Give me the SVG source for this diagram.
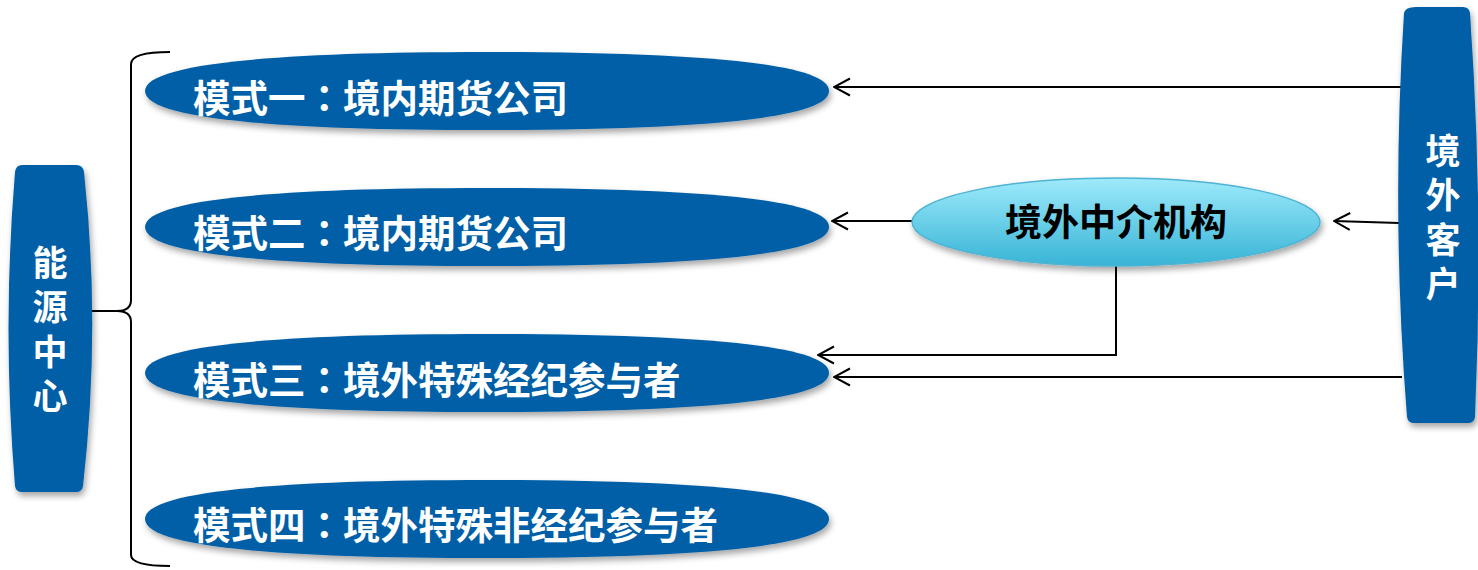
<svg xmlns="http://www.w3.org/2000/svg" width="1478" height="570" viewBox="0 0 1478 570">
<style>
.mode{fill:#065fa7;filter:url(#sh)}
.wt{fill:#ffffff;font-family:"Noto Sans CJK SC","Noto Sans",sans-serif;font-weight:bold;font-size:37.5px;dominant-baseline:central}
.cl{font-family:"Noto Sans CJK TC","Noto Sans CJK SC",sans-serif}
.bt{fill:#000000;font-family:"Noto Sans CJK SC","Noto Sans",sans-serif;font-weight:bold;font-size:37px;dominant-baseline:central;text-anchor:middle}
.vt{fill:#ffffff;font-family:"Noto Sans CJK SC","Noto Sans",sans-serif;font-weight:bold;font-size:35px;writing-mode:vertical-rl;text-anchor:middle;letter-spacing:9.5px}
.ln{fill:none;stroke:#000;stroke-width:2}
</style>
<defs>
<filter id="sh" x="-10%" y="-20%" width="120%" height="150%">
<feDropShadow dx="2" dy="4" stdDeviation="3" flood-color="#000" flood-opacity="0.35"/>
</filter>
<linearGradient id="cg" x1="0" y1="0" x2="0" y2="1">
<stop offset="0" stop-color="#9eeafb"/>
<stop offset="1" stop-color="#38b4d6"/>
</linearGradient>
<marker id="ar" viewBox="0 0 20 20" refX="19" refY="10" markerWidth="20" markerHeight="20" markerUnits="userSpaceOnUse" orient="auto">
<polyline points="3,1.5 19,10 3,18.5" fill="none" stroke="#000" stroke-width="2"/>
</marker>
</defs>

<g id="connectors">
<path class="ln" d="M170,52 Q131,52 131,64 L131,300 Q131,311 117,311 L92,311 M117,311 Q131,311 131,322 L131,555 Q131,566 170,566"/>
<path class="ln" d="M1402,87 L834,87" marker-end="url(#ar)"/>
<path class="ln" d="M912,221 L832,221" marker-end="url(#ar)"/>
<path class="ln" d="M1399,223 L1334,221" marker-end="url(#ar)"/>
<path class="ln" d="M1116,266 L1116,355 L818,355" marker-end="url(#ar)"/>
<path class="ln" d="M1402,377 L834,377" marker-end="url(#ar)"/>
</g>

<g id="energy-center">
<path class="mode" d="M22,165 L76,165 Q83,165 84,172 Q101,328 83,486 Q82,492 76,492 L22,492 Q16,492 15,486 Q2,328 15,172 Q16,165 22,165 Z"/>
<text class="vt" x="50" y="334">能源中心</text>
</g>

<g id="mode1">
<path class="mode" d="M145,91 C145,64 270,52 487,52 C704,52 829,64 829,91 C829,118 704,130 487,130 C270,130 145,118 145,91 Z"/>
<text class="wt" x="193" y="95">模式一<tspan class="cl">：</tspan>境内期货公司</text>
</g>
<g id="mode2">
<path class="mode" d="M145,227 C145,200 270,188 487,188 C704,188 829,200 829,227 C829,254 704,266 487,266 C270,266 145,254 145,227 Z"/>
<text class="wt" x="193" y="230">模式二<tspan class="cl">：</tspan>境内期货公司</text>
</g>
<g id="mode3">
<path class="mode" d="M145,373 C145,346 270,334 487,334 C704,334 829,346 829,373 C829,400 704,412 487,412 C270,412 145,400 145,373 Z"/>
<text class="wt" x="193" y="377">模式三<tspan class="cl">：</tspan>境外特殊经纪参与者</text>
</g>
<g id="mode4">
<path class="mode" d="M145,519 C145,492 270,480 487,480 C704,480 829,492 829,519 C829,546 704,558 487,558 C270,558 145,546 145,519 Z"/>
<text class="wt" x="193" y="522">模式四<tspan class="cl">：</tspan>境外特殊非经纪参与者</text>
</g>

<g id="intermediary">
<ellipse cx="1116" cy="222" rx="204" ry="44" fill="url(#cg)" stroke="#4fb3d3" stroke-width="1.5" filter="url(#sh)"/>
<text class="bt" x="1116" y="220">境外中介机构</text>
</g>

<g id="overseas-client">
<path class="mode" d="M1416,7 L1463,7 Q1469,7 1470,13 Q1484,215 1475,417 Q1474,423 1468,423 L1414,423 Q1408,423 1407,417 Q1391,215 1404,13 Q1405,7 1416,7 Z"/>
<text class="vt" x="1443" y="222">境外客户</text>
</g>
</svg>
